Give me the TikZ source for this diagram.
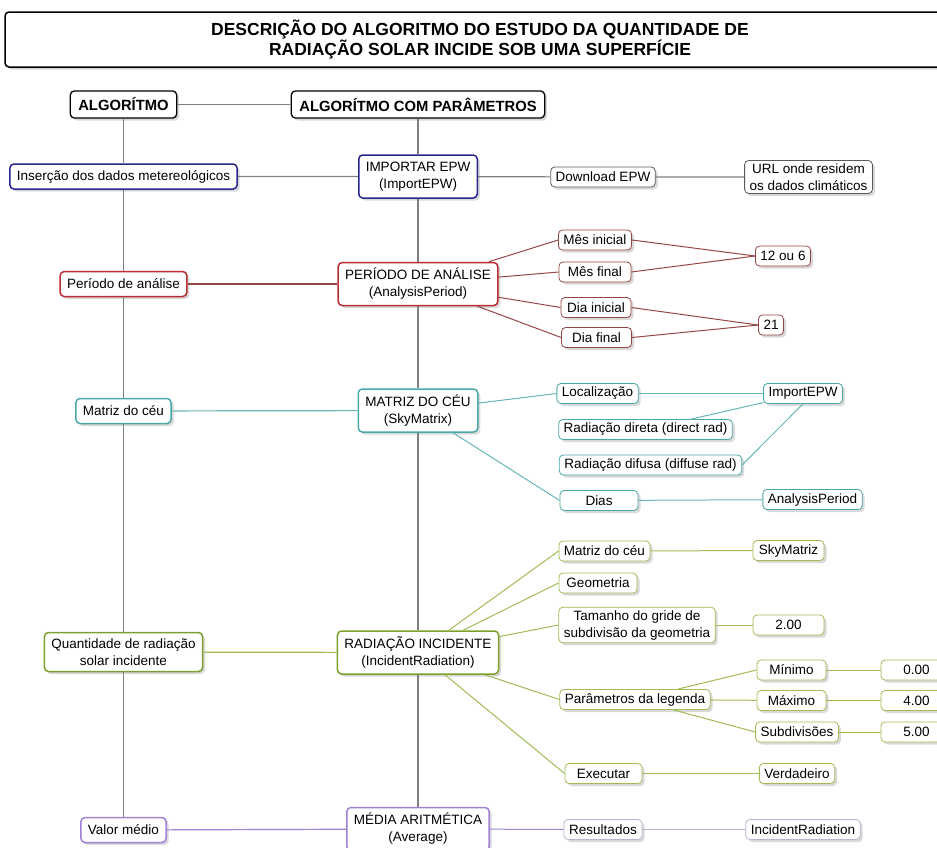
\documentclass[tikz,border=0pt]{standalone}
\usepackage{fontspec}
\setmainfont{Liberation Sans}
\usetikzlibrary{shadows}
\definecolor{cinza}{RGB}{128,128,128}
\definecolor{grafite}{RGB}{90,90,90}
\definecolor{azul}{RGB}{40,40,140}
\definecolor{vermelho}{RGB}{185,45,50}
\definecolor{vinho}{RGB}{150,70,70}
\definecolor{turquesa}{RGB}{75,168,168}
\definecolor{agua}{RGB}{105,182,182}
\definecolor{verde}{RGB}{125,160,45}
\definecolor{oliva}{RGB}{160,188,85}
\definecolor{roxo}{RGB}{160,130,215}
\definecolor{lilas}{RGB}{188,178,210}
\tikzset{
  caixa/.style={rounded corners=4pt, fill=white, align=center, inner xsep=7pt, inner ysep=3pt,
    font=\fontsize{13.5}{17}\selectfont,
    drop shadow={shadow xshift=2.5pt, shadow yshift=-2.5pt, opacity=0.3}},
  titulo/.style={caixa, draw=black, line width=1.5pt, minimum width=950pt, minimum height=55pt,
    font=\fontsize{17.5}{19.5}\selectfont\bfseries},
  cabeca/.style={caixa, draw=black, line width=1.3pt, inner xsep=8pt, minimum height=27pt,
    font=\fontsize{14.8}{17}\selectfont\bfseries},
  etapa/.style={caixa, draw=#1, line width=1.5pt, minimum height=25pt},
  comp/.style={caixa, draw=#1, line width=1.5pt, minimum height=43pt},
  param/.style={caixa, draw=#1, line width=0.8pt, inner xsep=5pt, inner ysep=1pt, minimum height=20pt},
  liga/.style={draw=#1, line width=1pt}
}
\begin{document}
\begin{tikzpicture}[x=1pt,y=-1pt]
\useasboundingbox (0,0) rectangle (937,847);
% Titulo
\node[titulo] (tit) at (480,39.5) {DESCRIÇÃO DO ALGORITMO DO ESTUDO DA QUANTIDADE DE\\RADIAÇÃO SOLAR INCIDE SOB UMA SUPERFÍCIE};
% Cabecalhos
\node[cabeca] (alg) at (123.5,104.5) {ALGORÍTMO};
\node[cabeca] (algp) at (418,104.5) {ALGORÍTMO COM PARÂMETROS};
% Coluna do algoritmo
\node[etapa=azul] (ins) at (123.5,176.5) {Inserção dos dados metereológicos};
\node[etapa=vermelho] (per) at (123.5,284) {Período de análise};
\node[etapa=turquesa] (mat) at (123.5,411) {Matriz do céu};
\node[etapa=verde, minimum height=39pt] (qua) at (123.5,652) {Quantidade de radiação\\solar incidente};
\node[etapa=roxo] (val) at (123.5,830) {Valor médio};
% Componentes
\node[comp=azul] (imp) at (418,176.5) {IMPORTAR EPW\\(ImportEPW)};
\node[comp=vermelho] (perc) at (418,284) {PERÍODO DE ANÁLISE\\(AnalysisPeriod)};
\node[comp=turquesa] (matc) at (418,410.5) {MATRIZ DO CÉU\\(SkyMatrix)};
\node[comp=verde] (rad) at (418,652.5) {RADIAÇÃO INCIDENTE\\(IncidentRadiation)};
\node[comp=roxo] (med) at (418,829) {MÉDIA ARITMÉTICA\\(Average)};
% Importar EPW
\node[param=grafite] (down) at (603,177) {Download EPW};
\node[param=grafite, inner ysep=3pt] (url) at (808.5,177) {URL onde residem\\os dados climáticos};
% Periodo de analise
\node[param=vinho, minimum width=72pt] (mi) at (595,240) {Mês inicial};
\node[param=vinho, minimum width=72pt] (mf) at (595,272) {Mês final};
\node[param=vinho, minimum width=70pt] (di) at (596,307.5) {Dia inicial};
\node[param=vinho, minimum width=70pt] (df) at (596.5,337.5) {Dia final};
\node[param=vinho] (v12) at (783,256) {12 ou 6};
\node[param=vinho] (v21) at (771,325) {21};
% Matriz do ceu
\node[param=turquesa] (loc) at (597.5,393.5) {Localização};
\node[param=turquesa] (iep) at (803,393.5) {ImportEPW};
\node[param=turquesa] (dir) at (645.5,429.5) {Radiação direta (direct rad)};
\node[param=turquesa] (dif) at (650.5,465) {Radiação difusa (diffuse rad)};
\node[param=turquesa, minimum width=78pt] (dia) at (599,500.5) {Dias};
\node[param=turquesa] (ap) at (812.5,499.5) {AnalysisPeriod};
% Radiacao incidente
\node[param=oliva] (gm) at (604.5,551) {Matriz do céu};
\node[param=oliva, minimum width=71pt] (sky) at (788.5,550.5) {SkyMatriz};
\node[param=oliva, minimum width=78pt] (geo) at (598,583) {Geometria};
\node[param=oliva, inner ysep=3pt] (tam) at (637,625) {Tamanho do gride de\\subdivisão da geometria};
\node[param=oliva, minimum width=71pt] (v2) at (788.5,625) {2.00};
\node[param=oliva] (par) at (635,699.5) {Parâmetros da legenda};
\node[param=oliva, minimum width=69pt] (min) at (791.5,670) {Mínimo};
\node[param=oliva, minimum width=69pt] (max) at (791.5,700.5) {Máximo};
\node[param=oliva] (sub) at (797,732) {Subdivisões};
\node[param=oliva, minimum width=71pt] (v0) at (916.5,670) {0.00};
\node[param=oliva, minimum width=71pt] (v4) at (916.5,700.5) {4.00};
\node[param=oliva, minimum width=71pt] (v5) at (916.5,732) {5.00};
\node[param=oliva, minimum width=77pt] (exe) at (603.5,773.5) {Executar};
\node[param=oliva] (ver) at (797,773.5) {Verdadeiro};
% Media
\node[param=lilas, minimum width=78pt] (res) at (603,829.5) {Resultados};
\node[param=lilas] (ir) at (803,829.5) {IncidentRadiation};
% Ligacoes principais
\draw[liga=cinza, line width=1.2pt] (alg) -- (ins) -- (per) -- (mat) -- (qua) -- (val);
\draw[liga=cinza, line width=1.2pt] (algp) -- (imp) -- (perc) -- (matc) -- (rad) -- (med);
\draw[liga=cinza, line width=1.2pt] (alg) -- (algp);
\draw[liga=cinza, line width=1.2pt] (ins) -- (imp) -- (down) -- (url);
\draw[liga=vinho, line width=1.2pt] (per) -- (perc);
\draw[liga=agua, line width=1.2pt] (mat) -- (matc);
\draw[liga=oliva, line width=1.2pt] (qua) -- (rad);
\draw[liga=roxo, line width=1.2pt] (val) -- (med);
% Ramos
\foreach \b in {mi,mf,di,df} \draw[liga=vinho] (perc) -- (\b.west);
\foreach \a/\b in {mi/v12,mf/v12,di/v21,df/v21} \draw[liga=vinho] (\a.east) -- (\b.west);
\foreach \b in {loc,dia} \draw[liga=agua] (matc) -- (\b.west);
\draw[liga=agua] (loc) -- (iep);
\draw[liga=agua] (iep) -- (dir);
\draw[liga=agua] (iep.south) -- (dif.east);
\draw[liga=agua] (dia) -- (ap);
\foreach \b in {gm,geo,tam,par,exe} \draw[liga=oliva] (rad) -- (\b.west);
\foreach \b in {min,sub} \draw[liga=oliva] (par) -- (\b.west);
\foreach \a/\b in {gm/sky,tam/v2,par/max,min/v0,max/v4,sub/v5,exe/ver} \draw[liga=oliva] (\a) -- (\b);
\draw[liga=roxo] (med) -- (res);
\draw[liga=lilas] (res) -- (ir);
\end{tikzpicture}
\end{document}
